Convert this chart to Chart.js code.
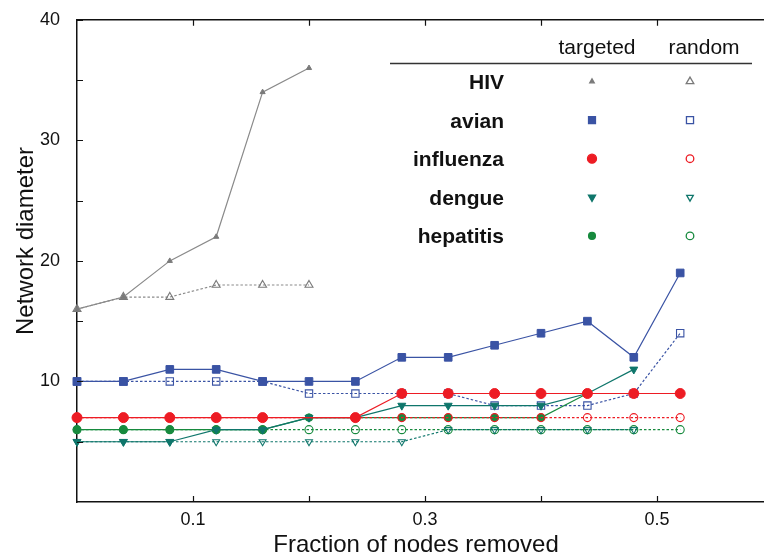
<!DOCTYPE html>
<html>
<head>
<meta charset="utf-8">
<script src="https://cdn.jsdelivr.net/npm/chart.js@4/dist/chart.umd.min.js"></script>
<style>
  html, body { margin: 0; padding: 0; background: #fff; overflow: hidden; }
  #wrap { width: 790px; height: 554px; }
</style>
</head>
<body>
<div id="wrap"><canvas id="c" width="790" height="554"></canvas></div>
<script>
// Fraction of nodes removed at each step
const fractions = [0, 0.04, 0.08, 0.12, 0.16, 0.20, 0.24, 0.28, 0.32, 0.36, 0.40, 0.44, 0.48, 0.52];

// Network diameter per virus network, targeted vs random removal
const hivTargeted       = [16, 17, 20, 22, 34, 36];
const hivRandom         = [16, 17, 17, 18, 18, 18];
const avianTargeted     = [10, 10, 11, 11, 10, 10, 10, 12, 12, 13, 14, 15, 12, 19];
const avianRandom       = [10, 10, 10, 10, 10, 9, 9, 9, 9, 8, 8, 8, 9, 14];
const influenzaTargeted = [7, 7, 7, 7, 7, null, 7, 9, 9, 9, 9, 9, 9, 9];
const influenzaRandom   = [7, 7, 7, 7, 7, null, 7, 7, 7, 7, 7, 7, 7, 7];
const dengueTargeted    = [5, 5, 5, 6, 6, 7, 7, 8, 8, 8, 8, 9, 11];
const dengueRandom      = [5, 5, 5, 5, 5, 5, 5, 5, 6, 6, 6, 6, 6];
const hepatitisTargeted = [6, 6, 6, 6, 6, 7, 7, 7, 7, 7, 7, 9, 9, 9];
const hepatitisRandom   = [6, 6, 6, 6, 6, 6, 6, 6, 6, 6, 6, 6, 6, 6];

// Axis ticks
const xTickLabels = [0.1, 0.3, 0.5];
const xTickMarks  = [0.1, 0.2, 0.3, 0.4, 0.5];
const yTickMarks  = [5, 10, 15, 20, 25, 30, 35, 40];

const networks = ['HIV', 'avian', 'influenza', 'dengue', 'hepatitis'];

const FONT = '"Liberation Sans", Arial, Helvetica, sans-serif';

// Marker styles for each network
const styles = {
  HIV:       { color: '#7a7a7a', line: '#8a8a8a', pointStyle: 'triangle', rotation: 0,   rT: 3,   rR: 4.6 },
  avian:     { color: '#3a53a4', line: '#3a53a4', pointStyle: 'rect',     rotation: 0,   rT: 5.4, rR: 5.2 },
  influenza: { color: '#ed1c24', line: '#ed1c24', pointStyle: 'circle',   rotation: 0,   rT: 5,   rR: 4 },
  dengue:    { color: '#0f766b', line: '#0f766b', pointStyle: 'triangle', rotation: 180, rT: 4.6, rR: 4 },
  hepatitis: { color: '#178a3e', line: '#178a3e', pointStyle: 'circle',   rotation: 0,   rT: 3.8, rR: 4 }
};

function toPoints(values) {
  return values.map((v, i) => ({ x: fractions[i], y: v }));
}

function targetedSet(name, values) {
  const s = styles[name];
  return {
    label: name + ' targeted',
    data: toPoints(values),
    borderColor: s.line,
    borderWidth: 1.2,
    pointStyle: s.pointStyle,
    rotation: s.rotation,
    pointRadius: s.rT,
    pointBackgroundColor: s.color,
    pointBorderColor: s.color,
    pointBorderWidth: 1,
    spanGaps: true,
    clip: false
  };
}

function randomSet(name, values) {
  const s = styles[name];
  return {
    label: name + ' random',
    data: toPoints(values),
    borderColor: s.line,
    borderWidth: 1.2,
    borderDash: [2.5, 2],
    pointStyle: s.pointStyle,
    rotation: s.rotation,
    pointRadius: s.rR,
    pointBackgroundColor: 'rgba(255,255,255,0)',
    pointBorderColor: s.color,
    pointBorderWidth: 1.1,
    spanGaps: true,
    clip: false
  };
}

// First dataset is painted last (on top)
const datasets = [
  targetedSet('influenza', influenzaTargeted),
  randomSet('influenza', influenzaRandom),
  targetedSet('dengue', dengueTargeted),
  targetedSet('hepatitis', hepatitisTargeted),
  randomSet('dengue', dengueRandom),
  randomSet('hepatitis', hepatitisRandom),
  targetedSet('avian', avianTargeted),
  randomSet('avian', avianRandom),
  targetedSet('HIV', hivTargeted),
  randomSet('HIV', hivRandom)
];

// Frame top edge, inward tick marks and axis titles
const frameAndTitles = {
  id: 'frameAndTitles',
  afterDraw(chart) {
    const { ctx, chartArea: a, scales: { x, y } } = chart;
    ctx.save();
    ctx.strokeStyle = '#111';
    ctx.lineWidth = 1.5;
    ctx.beginPath();
    ctx.moveTo(a.left, a.top);
    ctx.lineTo(a.right, a.top);
    ctx.stroke();
    ctx.lineWidth = 1.2;
    ctx.beginPath();
    xTickMarks.forEach(v => {
      const px = Math.round(x.getPixelForValue(v)) + 0.5;
      ctx.moveTo(px, a.bottom);
      ctx.lineTo(px, a.bottom - 6);
      ctx.moveTo(px, a.top);
      ctx.lineTo(px, a.top + 6);
    });
    yTickMarks.forEach(v => {
      const py = Math.round(y.getPixelForValue(v)) + 0.5;
      ctx.moveTo(a.left, py);
      ctx.lineTo(a.left + 6, py);
    });
    ctx.stroke();

    ctx.fillStyle = '#111';
    ctx.font = '24px ' + FONT;
    ctx.textAlign = 'center';
    ctx.textBaseline = 'alphabetic';
    ctx.fillText('Fraction of nodes removed', 416, 552);

    ctx.save();
    ctx.translate(33, 241);
    ctx.rotate(-Math.PI / 2);
    ctx.fillText('Network diameter', 0, 0);
    ctx.restore();
    ctx.restore();
  }
};

// Two-column key: targeted / random
const keyTable = {
  id: 'keyTable',
  afterDraw(chart) {
    const { ctx } = chart;
    ctx.save();
    ctx.fillStyle = '#111';
    ctx.font = '21px ' + FONT;
    ctx.textAlign = 'center';
    ctx.textBaseline = 'alphabetic';
    ctx.fillText('targeted', 597, 54);
    ctx.fillText('random', 704, 54);

    ctx.strokeStyle = '#333';
    ctx.lineWidth = 1.3;
    ctx.beginPath();
    ctx.moveTo(390, 63.5);
    ctx.lineTo(752, 63.5);
    ctx.stroke();

    const rowBase = 89;
    const rowStep = 38.6;
    networks.forEach((name, i) => {
      const s = styles[name];
      const base = rowBase + i * rowStep;
      ctx.fillStyle = '#111';
      ctx.font = 'bold 21px ' + FONT;
      ctx.textAlign = 'right';
      ctx.fillText(name, 504, base);

      const my = base - 7.5;
      ctx.fillStyle = s.color;
      ctx.strokeStyle = s.color;
      ctx.setLineDash([]);
      Chart.helpers.drawPoint(ctx, {
        pointStyle: s.pointStyle, rotation: s.rotation,
        radius: name === 'HIV' ? 2.6 : (name === 'hepatitis' ? 3.4 : s.rT - 0.5), borderWidth: 1
      }, 592, my);
      ctx.fillStyle = 'rgba(255,255,255,0)';
      Chart.helpers.drawPoint(ctx, {
        pointStyle: s.pointStyle, rotation: s.rotation,
        radius: s.rR - 0.2, borderWidth: 1.1
      }, 690, my);
    });
    ctx.restore();
  }
};

new Chart(document.getElementById('c'), {
  type: 'line',
  data: { datasets },
  plugins: [frameAndTitles, keyTable],
  options: {
    responsive: false,
    animation: false,
    layout: { padding: { top: 18, right: 17, left: 0, bottom: 0 } },
    plugins: { legend: { display: false }, tooltip: { enabled: false } },
    elements: { line: { tension: 0 } },
    scales: {
      x: {
        type: 'linear',
        min: 0,
        max: 0.6,
        grid: { display: false },
        border: { display: true, color: '#111', width: 1.5 },
        afterBuildTicks: s => { s.ticks = xTickLabels.map(v => ({ value: v })); },
        afterFit: s => { s.height = 52; },
        ticks: {
          color: '#111',
          font: { family: FONT, size: 18 },
          padding: -1,
          maxRotation: 0,
          callback: v => v.toFixed(1)
        }
      },
      y: {
        min: 0,
        max: 40,
        grid: { display: false },
        border: { display: true, color: '#111', width: 1.5 },
        afterFit: s => { s.width = 77; },
        ticks: {
          stepSize: 10,
          color: '#111',
          font: { family: FONT, size: 18 },
          padding: 9,
          callback: v => (v === 0 ? '' : v)
        }
      }
    }
  }
});
</script>
</body>
</html>
